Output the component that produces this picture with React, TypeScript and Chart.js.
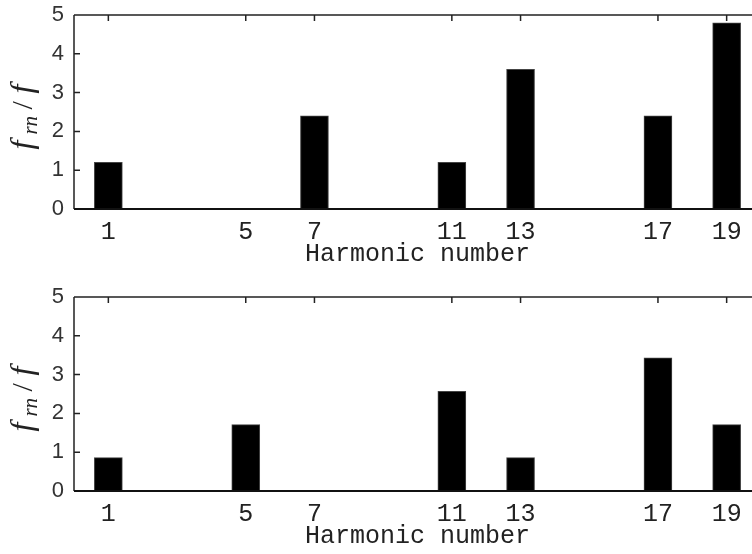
import React, { useEffect, useRef } from "react";
import Chart from "chart.js/auto";

const harmonics = [1, 5, 7, 11, 13, 17, 19];
const tickLabels = ["1", "5", "7", "11", "13", "17", "19"];
const topValues = [1.2, 0, 2.4, 1.2, 3.6, 2.4, 4.8];
const bottomValues = [0.86, 1.71, 0, 2.57, 0.86, 3.43, 1.71];
const yTicks = [0, 1, 2, 3, 4, 5];
const xTitle = "Harmonic number";

const CANVAS_W = 770;
const CANVAS_H = 272;

const framePlugin = {
  id: "frame",
  afterDatasetsDraw(chart: any) {
    const { ctx, chartArea, scales } = chart;
    const { left, right, top, bottom } = chartArea;
    const x = scales.x;
    const y = scales.y;
    ctx.save();
    ctx.strokeStyle = "#222";
    ctx.lineWidth = 1.5;
    ctx.beginPath();
    ctx.moveTo(left, top);
    ctx.lineTo(right, top);
    ctx.moveTo(left, top);
    ctx.lineTo(left, bottom);
    ctx.moveTo(right, top);
    ctx.lineTo(right, bottom);
    harmonics.forEach((h) => {
      const px = x.getPixelForValue(h);
      ctx.moveTo(px, top);
      ctx.lineTo(px, top + 6);
    });
    yTicks.forEach((v) => {
      const py = y.getPixelForValue(v);
      ctx.moveTo(left, py);
      ctx.lineTo(left + 6, py);
    });
    ctx.stroke();
    ctx.lineWidth = 2.2;
    ctx.strokeStyle = "#111";
    ctx.beginPath();
    ctx.moveTo(left, bottom);
    ctx.lineTo(right, bottom);
    ctx.stroke();
    ctx.restore();
  },
};

const yTitlePlugin = {
  id: "ytitle",
  afterDraw(chart: any) {
    const { ctx, chartArea } = chart;
    const cy = (chartArea.top + chartArea.bottom) / 2 + 3;
    ctx.save();
    ctx.translate(24, cy);
    ctx.rotate(-Math.PI / 2);
    ctx.fillStyle = "#222";
    ctx.textBaseline = "alphabetic";
    const big = 'italic 32px "Liberation Serif"';
    const small = 'italic 21px "Liberation Serif"';
    const upright = '30px "Liberation Serif"';
    const items: { t: string; font: string; dy: number; gap: number }[] = [
      { t: "f", font: big, dy: 0, gap: 2 },
      { t: "rn", font: small, dy: 5, gap: 7 },
      { t: "/", font: upright, dy: 0, gap: 7 },
      { t: "f", font: big, dy: 0, gap: 0 },
    ];
    const ms = items.map((it) => {
      ctx.font = it.font;
      const m = ctx.measureText(it.t);
      return { l: m.actualBoundingBoxLeft, w: m.actualBoundingBoxLeft + m.actualBoundingBoxRight };
    });
    let total = 0;
    items.forEach((it, i) => (total += ms[i].w + it.gap));
    let cursor = -total / 2;
    items.forEach((it, i) => {
      ctx.font = it.font;
      ctx.fillText(it.t, cursor + ms[i].l, 8 + it.dy);
      cursor += ms[i].w + it.gap;
    });
    ctx.restore();
  },
};

function makeConfig(values: number[]): any {
  return {
    type: "bar",
    data: {
      datasets: [
        {
          data: harmonics.map((h, i) => ({ x: h, y: values[i] })),
          backgroundColor: "#000",
          borderColor: "#444",
          borderWidth: 1,
          barThickness: 28,
        },
      ],
    },
    options: {
      responsive: false,
      animation: false,
      devicePixelRatio: 1,
      layout: { padding: { top: 15, left: 0, right: CANVAS_W - 761, bottom: 0 } },
      plugins: { legend: { display: false }, tooltip: { enabled: false } },
      scales: {
        x: {
          type: "linear",
          min: 0,
          max: 20,
          offset: false,
          border: { display: false },
          grid: { display: false, drawTicks: false, offset: false },
          afterBuildTicks: (scale: any) => {
            scale.ticks = harmonics.map((v) => ({ value: v }));
          },
          afterFit: (scale: any) => {
            scale.height = CANVAS_H - 15 - 194;
            scale.paddingLeft = 0;
            scale.paddingRight = 0;
          },
          ticks: {
            autoSkip: false,
            maxRotation: 0,
            padding: 8,
            color: "#222",
            font: { family: '"Liberation Mono"', size: 25 },
            callback: (v: number) => {
              const i = harmonics.indexOf(v);
              return i >= 0 ? tickLabels[i] : "";
            },
          },
          title: {
            display: true,
            text: xTitle,
            color: "#222",
            font: { family: '"Liberation Mono"', size: 25 },
            padding: { top: 0, bottom: 3 },
          },
        },
        y: {
          min: 0,
          max: 5,
          border: { display: false },
          grid: { display: false, drawTicks: false },
          afterBuildTicks: (scale: any) => {
            scale.ticks = yTicks.map((v) => ({ value: v }));
          },
          afterFit: (scale: any) => {
            scale.width = 74;
            scale.paddingTop = 0;
            scale.paddingBottom = 0;
          },
          ticks: {
            padding: 10,
            color: "#333",
            font: { family: '"Liberation Sans"', size: 22 },
          },
        },
      },
    },
    plugins: [framePlugin, yTitlePlugin],
  };
}

export default function App() {
  const topRef = useRef<HTMLCanvasElement>(null);
  const botRef = useRef<HTMLCanvasElement>(null);
  useEffect(() => {
    const c1 = new Chart(topRef.current as HTMLCanvasElement, makeConfig(topValues));
    const c2 = new Chart(botRef.current as HTMLCanvasElement, makeConfig(bottomValues));
    return () => {
      c1.destroy();
      c2.destroy();
    };
  }, []);
  return (
    <div
      style={{
        position: "absolute",
        left: 0,
        top: 0,
        width: 752,
        height: 554,
        overflow: "hidden",
        background: "#fff",
      }}
    >
      <canvas
        ref={topRef}
        width={CANVAS_W}
        height={CANVAS_H}
        style={{ position: "absolute", left: 0, top: 0, width: CANVAS_W, height: CANVAS_H }}
      />
      <canvas
        ref={botRef}
        width={CANVAS_W}
        height={CANVAS_H}
        style={{ position: "absolute", left: 0, top: 282, width: CANVAS_W, height: CANVAS_H }}
      />
    </div>
  );
}
